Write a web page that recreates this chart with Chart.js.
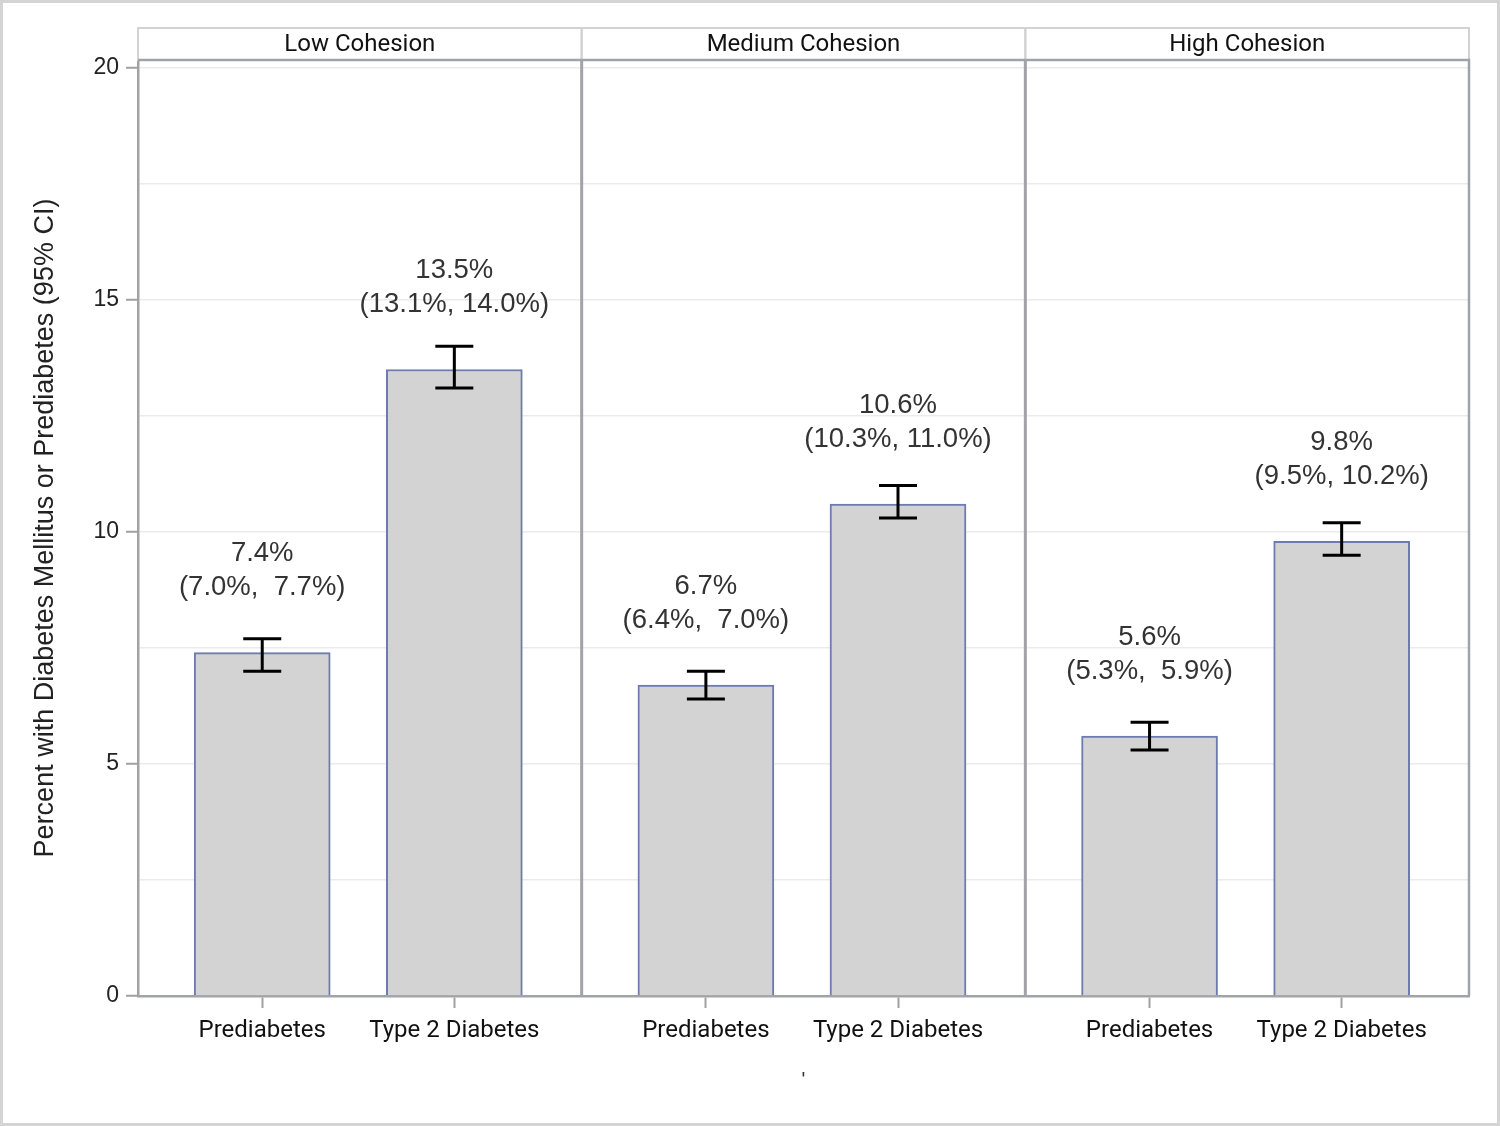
<!DOCTYPE html>
<html>
<head>
<meta charset="utf-8">
<script src="https://cdn.jsdelivr.net/npm/chart.js@4.4.1/dist/chart.umd.min.js"></script>
<style>
  html, body { margin: 0; padding: 0; background: #fff; }
</style>
</head>
<body>
<canvas id="chart" width="1500" height="1126"></canvas>
<script>
const panels = ['Low Cohesion', 'Medium Cohesion', 'High Cohesion'];
const categories = ['Prediabetes', 'Type 2 Diabetes'];

// percent, lower and upper 95% CI, one entry per cohesion panel
const prediabetes = [7.4, 6.7, 5.6];
const prediabetesLow = [7.0, 6.4, 5.3];
const prediabetesHigh = [7.7, 7.0, 5.9];
const diabetes = [13.5, 10.6, 9.8];
const diabetesLow = [13.1, 10.3, 9.5];
const diabetesHigh = [14.0, 11.0, 10.2];

const yGrid = [0, 2.5, 5, 7.5, 10, 12.5, 15, 17.5, 20];
const yTicks = [0, 5, 10, 15, 20];
const yTitle = 'Percent with Diabetes Mellitus or Prediabetes (95% CI)';

// where each bar sits inside its panel (panel = 1 unit on x)
const slot = [0.28, 0.713];

const series = [
  { values: prediabetes, low: prediabetesLow, high: prediabetesHigh },
  { values: diabetes, low: diabetesLow, high: diabetesHigh }
];

const tickPos = [];
panels.forEach((p, i) => slot.forEach(s => tickPos.push(i + s)));

const textFont = '"Liberation Sans", Arial, sans-serif';
const labelFont = 'Roboto, "Liberation Sans", sans-serif';

function fmtCI(lo, hi) {
  return '(' + lo.toFixed(1) + '%, ' + hi.toFixed(1).padStart(4, ' ') + '%)';
}

const framePlugin = {
  id: 'framePlugin',
  beforeDraw(chart) {
    const ctx = chart.ctx;
    ctx.save();
    ctx.fillStyle = '#fff';
    ctx.fillRect(0, 0, chart.width, chart.height);
    ctx.restore();
  },
  afterDatasetsDraw(chart) {
    const ctx = chart.ctx;
    const y = chart.scales.y;
    ctx.save();
    series.forEach((s, d) => {
      const meta = chart.getDatasetMeta(d);
      meta.data.forEach((bar, i) => {
        const yLo = y.getPixelForValue(s.low[i]);
        const yHi = y.getPixelForValue(s.high[i]);
        const yVal = y.getPixelForValue(s.values[i]);
        ctx.strokeStyle = '#000';
        ctx.lineWidth = 3;
        ctx.beginPath();
        ctx.moveTo(bar.x, yLo); ctx.lineTo(bar.x, yHi);
        ctx.moveTo(bar.x - 19, yLo); ctx.lineTo(bar.x + 19, yLo);
        ctx.moveTo(bar.x - 19, yHi); ctx.lineTo(bar.x + 19, yHi);
        ctx.stroke();

        ctx.fillStyle = '#333';
        ctx.font = '27.5px ' + textFont;
        ctx.textAlign = 'center';
        ctx.textBaseline = 'middle';
        ctx.fillText(s.values[i].toFixed(1) + '%', bar.x, yVal - 99);
        ctx.fillText(fmtCI(s.low[i], s.high[i]), bar.x, yVal - 65);
      });
    });
    ctx.restore();
  },
  afterDraw(chart) {
    const ctx = chart.ctx;
    const area = chart.chartArea;
    const x = chart.scales.x;
    ctx.save();

    // panel headers
    const headTop = 28;
    ctx.strokeStyle = '#d2d2d2';
    ctx.lineWidth = 2;
    ctx.fillStyle = '#111';
    ctx.font = '24px ' + labelFont;
    ctx.textAlign = 'center';
    ctx.textBaseline = 'middle';
    panels.forEach((p, i) => {
      const l = x.getPixelForValue(i);
      const r = x.getPixelForValue(i + 1);
      ctx.strokeRect(l, headTop, r - l, area.top - headTop);
      ctx.fillText(p, (l + r) / 2, (headTop + area.top) / 2 + 1);
    });

    // plot frame and panel dividers
    ctx.strokeStyle = '#a0a4a8';
    ctx.lineWidth = 2.5;
    ctx.beginPath();
    ctx.moveTo(area.left, area.top); ctx.lineTo(area.right, area.top);
    ctx.lineTo(area.right, area.bottom);
    ctx.stroke();
    ctx.lineWidth = 3;
    ctx.beginPath();
    for (let i = 1; i < panels.length; i++) {
      const px = x.getPixelForValue(i);
      ctx.moveTo(px, area.top); ctx.lineTo(px, area.bottom);
    }
    ctx.stroke();

    // outer border
    ctx.strokeStyle = '#d4d4d4';
    ctx.lineWidth = 3;
    ctx.strokeRect(1.5, 1.5, chart.width - 3, chart.height - 3);
    ctx.restore();
  }
};

new Chart(document.getElementById('chart'), {
  type: 'bar',
  data: {
    datasets: series.map((s, j) => ({
      label: categories[j],
      data: s.values.map((v, i) => ({ x: i + slot[j], y: v })),
      backgroundColor: '#d3d3d3',
      borderColor: '#6f7bb0',
      borderWidth: 2,
      barThickness: 136,
      grouped: false
    }))
  },
  options: {
    responsive: false,
    animation: false,
    devicePixelRatio: 1,
    layout: { padding: { left: 22, top: 60, right: 31, bottom: 34 } },
    plugins: { legend: { display: false }, tooltip: { enabled: false } },
    scales: {
      x: {
        type: 'linear',
        min: 0,
        max: panels.length,
        offset: false,
        afterBuildTicks: s => { s.ticks = tickPos.map(v => ({ value: v })); },
        afterFit: s => { s.height = 96; },
        ticks: {
          autoSkip: false,
          maxRotation: 0,
          padding: 9,
          color: '#111',
          font: { family: labelFont, size: 24 },
          callback: (v, i) => categories[i % categories.length]
        },
        grid: { offset: false, drawOnChartArea: false, drawTicks: true, tickLength: 12, tickColor: '#a0a0a0', tickWidth: 2 },
        border: { color: '#a0a4a8', width: 2.5 },
        title: { display: true, text: "'", color: '#333', font: { family: textFont, size: 20 }, padding: { top: 0, bottom: 0 } }
      },
      y: {
        min: 0,
        max: 20.17,
        afterBuildTicks: s => { s.ticks = yGrid.map(v => ({ value: v })); },
        afterFit: s => { s.width = 116; },
        ticks: {
          padding: 7,
          color: '#222',
          font: { family: textFont, size: 23 },
          callback: v => yTicks.includes(v) ? String(v) : ''
        },
        grid: {
          color: c => (c.tick && c.tick.value === 0) ? 'rgba(0,0,0,0)' : '#ebebeb',
          lineWidth: 1.5,
          tickLength: 12,
          tickWidth: 2,
          tickColor: c => (c.tick && yTicks.includes(c.tick.value)) ? '#a0a0a0' : 'rgba(0,0,0,0)'
        },
        border: { color: '#a0a4a8', width: 2.5 },
        title: { display: true, text: yTitle, color: '#222', font: { family: textFont, size: 27 }, padding: { top: 7, bottom: 0 } }
      }
    }
  },
  plugins: [framePlugin]
});
</script>
</body>
</html>
